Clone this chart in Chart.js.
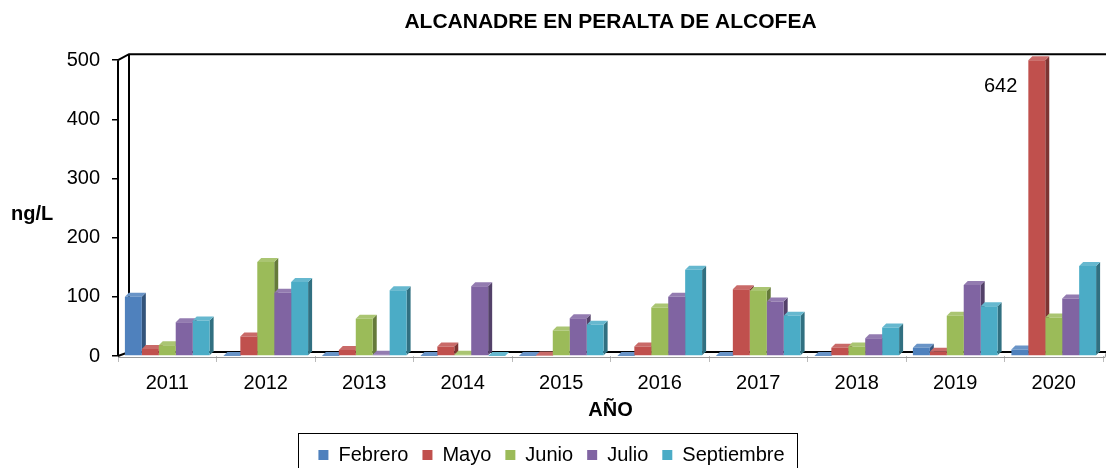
<!DOCTYPE html>
<html>
<head>
<meta charset="utf-8">
<script src="https://cdn.jsdelivr.net/npm/chart.js@4.4.0/dist/chart.umd.min.js"></script>
<style>
  html, body { margin: 0; padding: 0; background: #fff; }
  #wrap { width: 1106px; height: 468px; }
</style>
</head>
<body>
<div id="wrap"><canvas id="grafico" width="1106" height="468"></canvas></div>
<script>
// Datos (ng/L)
const anios = ['2011', '2012', '2013', '2014', '2015', '2016', '2017', '2018', '2019', '2020'];
const febrero    = [100, 0, 0, 0, 0, 0, 0, 0, 14, 11];
const mayo       = [12, 33, 10, 16, 1, 16, 113, 14, 7, 642];
const junio      = [18, 159, 63, 2, 43, 82, 110, 16, 68, 65];
const julio      = [57, 107, 2, 118, 64, 100, 92, 30, 120, 97];
const septiembre = [60, 125, 111, 0, 53, 146, 68, 48, 84, 152];
const ticksY = [0, 100, 200, 300, 400, 500];
const etiquetaMayo2020 = '642';

const FUENTE = 'Arial, "Liberation Sans", sans-serif';

// Sombrear un color hexadecimal (f < 0 oscurece, f > 0 aclara)
function sombra(hex, f) {
  const n = parseInt(hex.slice(1), 16);
  let r = (n >> 16) & 255, g = (n >> 8) & 255, b = n & 255;
  const t = f < 0 ? 0 : 255, p = Math.abs(f);
  r = Math.round((t - r) * p + r);
  g = Math.round((t - g) * p + g);
  b = Math.round((t - b) * p + b);
  return 'rgb(' + r + ',' + g + ',' + b + ')';
}

// Plugin: paredes, suelo y caras laterales de las barras (efecto 3D)
const efecto3D = {
  id: 'efecto3D',
  beforeDatasetsDraw(chart) {
    const ctx = chart.ctx;
    const a = chart.chartArea;
    const d = 4;
    ctx.save();
    // pared del fondo
    ctx.strokeStyle = '#000';
    ctx.lineWidth = 2;
    ctx.beginPath();
    ctx.moveTo(a.left, a.top);
    ctx.lineTo(a.left + 11, a.top - 6);
    ctx.lineTo(chart.width, a.top - 6);
    ctx.moveTo(a.left + 11, a.top - 6);
    ctx.lineTo(a.left + 11, a.bottom - 4);
    ctx.stroke();
    // borde trasero del suelo
    ctx.beginPath();
    ctx.moveTo(a.left, a.bottom);
    ctx.lineTo(a.left + 11, a.bottom - 4);
    ctx.lineTo(chart.width, a.bottom - 4);
    ctx.stroke();
    ctx.strokeStyle = '#999';
    ctx.lineWidth = 1;
    ctx.beginPath();
    ctx.moveTo(a.left, a.bottom + 1.5);
    ctx.lineTo(a.right + 2, a.bottom + 1.5);
    ctx.lineTo(chart.width, a.bottom - 3);
    ctx.stroke();

    ctx.beginPath();
    ctx.rect(a.left, a.top - 6, chart.width - a.left, a.bottom - a.top + 10);
    ctx.clip();
    chart.data.datasets.forEach((ds, i) => {
      const meta = chart.getDatasetMeta(i);
      meta.data.forEach((bar) => {
        const izq = bar.x - bar.width / 2;
        const der = bar.x + bar.width / 2;
        const y = Math.max(bar.y, a.top);
        const base = bar.base;
        // cara lateral
        ctx.fillStyle = sombra(ds.backgroundColor, -0.35);
        ctx.beginPath();
        ctx.moveTo(der, y);
        ctx.lineTo(der + d, y - d);
        ctx.lineTo(der + d, base - d);
        ctx.lineTo(der, base);
        ctx.closePath();
        ctx.fill();
        // cara superior
        ctx.fillStyle = sombra(ds.backgroundColor, 0.15);
        ctx.beginPath();
        ctx.moveTo(izq, y);
        ctx.lineTo(izq + d, y - d);
        ctx.lineTo(der + d, y - d);
        ctx.lineTo(der, y);
        ctx.closePath();
        ctx.fill();
      });
    });
    ctx.restore();
  },
  afterDraw(chart) {
    const ctx = chart.ctx;
    const a = chart.chartArea;
    ctx.save();
    // eje frontal
    ctx.strokeStyle = '#000';
    ctx.lineWidth = 2;
    ctx.beginPath();
    ctx.moveTo(a.left, a.top);
    ctx.lineTo(a.left, a.bottom);
    ctx.stroke();
    // títulos de ejes
    ctx.fillStyle = '#000';
    ctx.font = 'bold 20px ' + FUENTE;
    ctx.textAlign = 'left';
    ctx.textBaseline = 'middle';
    ctx.fillText('ng/L', 11, (a.top + a.bottom) / 2 + 6);
    ctx.textAlign = 'center';
    ctx.fillText('AÑO', (a.left + a.right) / 2, a.bottom + 54);
    // etiqueta de la barra recortada
    const barra = chart.getDatasetMeta(1).data[9];
    ctx.font = '20px ' + FUENTE;
    ctx.textAlign = 'right';
    ctx.fillText(etiquetaMayo2020, barra.x - barra.width / 2 - 11, a.top + 26);
    // marco de la leyenda
    const cajas = chart.legend.legendHitBoxes;
    if (cajas && cajas.length) {
      const ult = cajas[cajas.length - 1];
      const x0 = cajas[0].left - 20;
      const x1 = ult.left + ult.width + 13;
      ctx.strokeStyle = '#000';
      ctx.lineWidth = 1;
      ctx.strokeRect(Math.round(x0) + 0.5, Math.round(cajas[0].top) - 11.5, Math.round(x1 - x0), 60);
    }
    ctx.restore();
  }
};

const colores = ['#4F81BD', '#C0504D', '#9BBB59', '#8064A2', '#4BACC6'];
const series = [febrero, mayo, junio, julio, septiembre];
const nombres = ['Febrero', 'Mayo', 'Junio', 'Julio', 'Septiembre'];

new Chart(document.getElementById('grafico'), {
  type: 'bar',
  data: {
    labels: anios,
    datasets: series.map((s, i) => ({
      label: nombres[i],
      data: s,
      backgroundColor: colores[i],
      borderWidth: 0,
      categoryPercentage: 0.86,
      barPercentage: 1.0
    }))
  },
  options: {
    responsive: false,
    animation: false,
    layout: { padding: { left: 0, right: 3, top: 0, bottom: -7 } },
    plugins: {
      title: {
        display: true,
        text: 'ALCANADRE EN PERALTA DE ALCOFEA',
        color: '#000',
        fullSize: false,
        font: { family: FUENTE, size: 21, weight: 'bold' },
        padding: { top: 10, bottom: 25 }
      },
      legend: {
        position: 'bottom',
        labels: {
          color: '#000',
          boxWidth: 10,
          boxHeight: 10,
          padding: 14,
          font: { family: FUENTE, size: 20 }
        }
      },
      tooltip: { enabled: false }
    },
    scales: {
      x: {
        border: { display: false },
        grid: { offset: true, drawOnChartArea: false, tickLength: 6, color: '#bbb' },
        ticks: { color: '#000', padding: 9, font: { family: FUENTE, size: 20 } },
        afterFit(scale) { scale.height = 75; }
      },
      y: {
        min: 0,
        max: 500,
        afterBuildTicks(scale) { scale.ticks = ticksY.map(v => ({ value: v })); },
        border: { display: false },
        grid: { drawOnChartArea: false, tickLength: 6, color: '#000', lineWidth: 1.5 },
        ticks: { color: '#000', padding: 12, font: { family: FUENTE, size: 20 } },
        afterFit(scale) { scale.width = 118; }
      }
    }
  },
  plugins: [efecto3D]
});
</script>
</body>
</html>
